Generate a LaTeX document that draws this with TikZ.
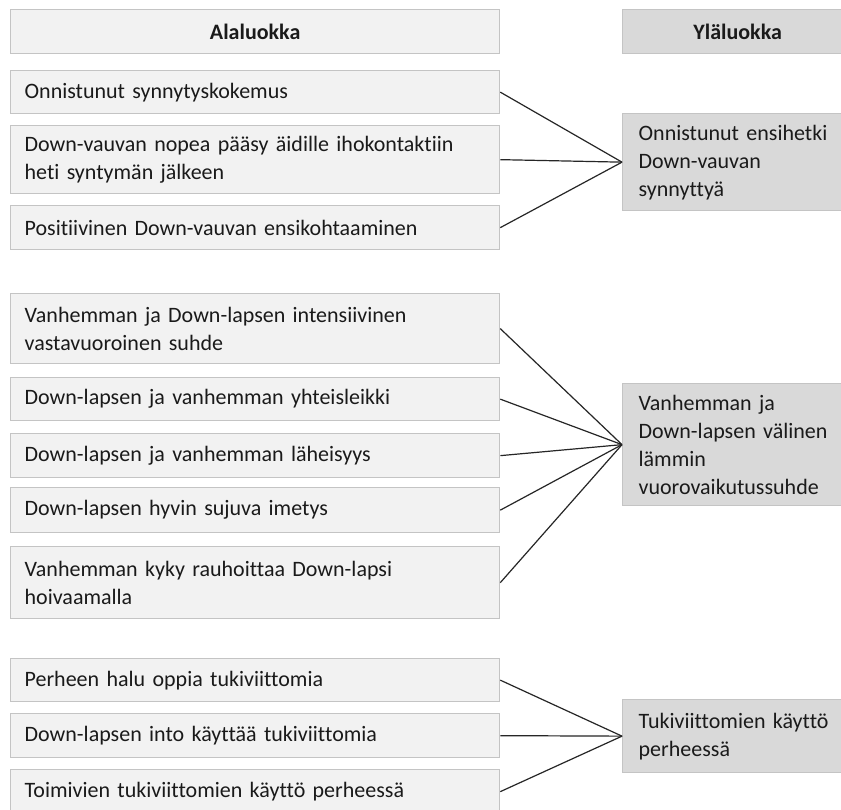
\documentclass[tikz,border=0pt]{standalone}
\usepackage{fontspec}
\setmainfont{Carlito}[Ligatures={NoCommon}]
\definecolor{lfill}{HTML}{F2F2F2}
\definecolor{rfill}{HTML}{D9D9D9}
\definecolor{boxline}{HTML}{C4C4C4}
\definecolor{txt}{HTML}{1A1A1A}
\begin{document}
\begin{tikzpicture}[x=1pt,y=-1pt,
  base/.style={draw=boxline, line width=1.3pt, anchor=north west, inner ysep=0pt,
    font=\fontsize{22}{28}\selectfont, text=txt},
  lbox/.style={base, fill=lfill, inner xsep=14pt, text width=461pt, align=left},
  rbox/.style={base, fill=rfill, inner xsep=16pt, text width=198pt, align=left},
  lhead/.style={lbox, align=center, font=\fontsize{22}{28}\selectfont\bfseries},
  rhead/.style={rbox, align=center, font=\fontsize{22}{28}\selectfont\bfseries},
  conn/.style={draw=black!85, line width=1.2pt}]
\fill[white] (0,0) rectangle (841,810);
\clip (0,0) rectangle (841,810);
% headers
\node[lhead, minimum height=44pt] (ha) at (10,9) {Alaluokka};
\node[rhead, minimum height=44pt] (hy) at (622,9) {Yläluokka};
% group 1
\node[lbox, minimum height=43pt] (l1) at (10,70) {Onnistunut synnytyskokemus};
\node[lbox, minimum height=68pt] (l2) at (10,125) {Down-vauvan nopea pääsy äidille ihokontaktiin\\heti syntymän jälkeen};
\node[lbox, minimum height=44pt] (l3) at (10,205) {Positiivinen Down-vauvan ensikohtaaminen};
\node[rbox, minimum height=97pt] (r1) at (622,113) {Onnistunut ensihetki\\Down-vauvan\\synnyttyä};
% group 2
\node[lbox, minimum height=70pt] (l4) at (10,293) {Vanhemman ja Down-lapsen intensiivinen\\vastavuoroinen suhde};
\node[lbox, minimum height=43pt] (l5) at (10,377) {Down-lapsen ja vanhemman yhteisleikki};
\node[lbox, minimum height=44pt] (l6) at (10,433) {Down-lapsen ja vanhemman läheisyys};
\node[lbox, minimum height=45pt] (l7) at (10,487) {Down-lapsen hyvin sujuva imetys};
\node[lbox, minimum height=72pt] (l8) at (10,546) {Vanhemman kyky rauhoittaa Down-lapsi\\hoivaamalla};
\node[rbox, minimum height=122pt] (r2) at (622,383) {Vanhemman ja\\Down-lapsen välinen\\lämmin\\vuorovaikutussuhde};
% group 3
\node[lbox, minimum height=43pt] (l9) at (10,658) {Perheen halu oppia tukiviittomia};
\node[lbox, minimum height=44pt] (l10) at (10,713) {Down-lapsen into käyttää tukiviittomia};
\node[lbox, minimum height=44pt] (l11) at (10,769) {Toimivien tukiviittomien käyttö perheessä};
\node[rbox, minimum height=73pt] (r3) at (622,699) {Tukiviittomien käyttö\\perheessä};
% connectors
\foreach \a in {l1,l2,l3} \draw[conn] (\a.east) -- (r1.west);
\foreach \a in {l4,l5,l6,l7,l8} \draw[conn] (\a.east) -- (r2.west);
\foreach \a in {l9,l10,l11} \draw[conn] (\a.east) -- (r3.west);
\end{tikzpicture}
\end{document}
